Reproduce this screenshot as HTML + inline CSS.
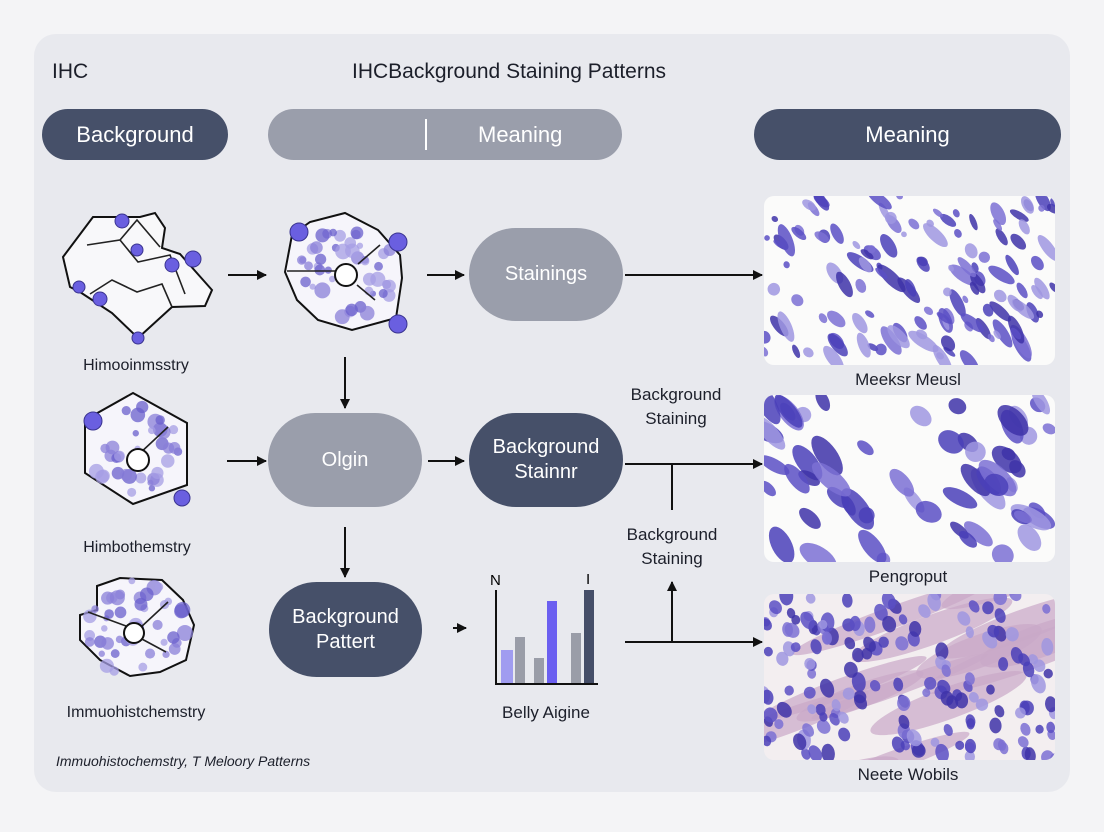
<!DOCTYPE html>
<html><head><meta charset="utf-8"><style>
body{margin:0;width:1104px;height:832px;background:#f4f4f6;font-family:"Liberation Sans",sans-serif;position:relative;overflow:hidden}
.panel{position:absolute;left:34px;top:34px;width:1036px;height:758px;background:#e8e9ee;border-radius:22px}
.t{position:absolute;color:#1c1f2a;white-space:nowrap}
.pill{position:absolute;border-radius:50px;color:#fff;display:flex;align-items:center;justify-content:center;text-align:center;font-size:20px;line-height:25px}
.d{background:#465069}.g{background:#9a9eab}
.lbl{position:absolute;font-size:16px;color:#1c1f2a;transform:translateX(-50%);white-space:nowrap}
</style></head><body>
<div class="panel"></div>
<div class="t" style="left:52px;top:60px;font-size:21px">IHC</div>
<div class="t" style="left:352px;top:60px;font-size:21px">IHCBackground Staining Patterns</div>
<div class="pill d" style="left:42px;top:109px;width:186px;height:51px;font-size:22px">Background</div>
<div class="pill g" style="left:268px;top:109px;width:354px;height:51px;font-size:22px"><span style="position:absolute;left:157px;top:10px;width:2px;height:31px;background:#fff"></span><span style="position:absolute;left:210px">Meaning</span></div>
<div class="pill d" style="left:754px;top:109px;width:307px;height:51px;font-size:22px">Meaning</div>
<div class="pill g" style="left:469px;top:228px;width:154px;height:93px">Stainings</div>
<div class="pill g" style="left:268px;top:413px;width:154px;height:94px">Olgin</div>
<div class="pill d" style="left:469px;top:413px;width:154px;height:94px">Background<br>Stainnr</div>
<div class="pill d" style="left:269px;top:582px;width:153px;height:95px">Background<br>Pattert</div>
<div class="lbl" style="left:136px;top:357px">Himooinmsstry</div>
<div class="lbl" style="left:137px;top:539px">Himbothemstry</div>
<div class="lbl" style="left:136px;top:704px">Immuohistchemstry</div>
<div class="lbl" style="left:908px;top:370px;font-size:17px">Meeksr Meusl</div>
<div class="lbl" style="left:908px;top:567px;font-size:17px">Pengroput</div>
<div class="lbl" style="left:908px;top:765px;font-size:17px">Neete Wobils</div>
<div class="lbl" style="left:676px;top:383px;font-size:17px;text-align:center;line-height:24px">Background<br>Staining</div>
<div class="lbl" style="left:672px;top:523px;font-size:17px;text-align:center;line-height:24px">Background<br>Staining</div>
<div class="lbl" style="left:546px;top:703px;font-size:17px">Belly Aigine</div>
<div class="t" style="left:56px;top:753px;font-size:14px;font-style:italic">Immuohistochemstry, T Meloory Patterns</div>
<svg width="1104" height="832" style="position:absolute;left:0;top:0">
<defs><marker id="a" markerWidth="10" markerHeight="10" refX="9" refY="5" orient="auto" markerUnits="userSpaceOnUse"><path d="M0,0L10,5L0,10z" fill="#111"/></marker>
<clipPath id="c1"><rect x="764" y="196" width="291" height="169" rx="10"/></clipPath>
<clipPath id="c2"><rect x="764" y="395" width="291" height="167" rx="10"/></clipPath>
<clipPath id="c3"><rect x="764" y="594" width="291" height="166" rx="10"/></clipPath>
</defs>
<g stroke="#111" stroke-width="2" fill="none" marker-end="url(#a)">
<line x1="228" y1="275" x2="266" y2="275"/><line x1="427" y1="275" x2="464" y2="275"/><line x1="625" y1="275" x2="762" y2="275"/>
<line x1="345" y1="357" x2="345" y2="408"/><line x1="227" y1="461" x2="266" y2="461"/><line x1="428" y1="461" x2="464" y2="461"/>
<line x1="625" y1="464" x2="762" y2="464"/><line x1="345" y1="527" x2="345" y2="577"/><line x1="453" y1="628" x2="466" y2="628"/>
<line x1="625" y1="642" x2="762" y2="642"/><line x1="672" y1="642" x2="672" y2="582"/>
</g>
<line x1="672" y1="464" x2="672" y2="510" stroke="#111" stroke-width="2"/>
<rect x="764" y="196" width="291" height="169" rx="10" fill="#fbfbfa"/>
<rect x="764" y="395" width="291" height="167" rx="10" fill="#fbfbfa"/>
<rect x="764" y="594" width="291" height="166" rx="10" fill="#f3eef0"/>
<g id="im1" clip-path="url(#c1)"></g><g id="im2" clip-path="url(#c2)"></g><g id="im3" clip-path="url(#c3)"></g>
<path d="M63,257L93,217L140,217L155,213L165,228L162,248L180,254L212,290L205,306L172,307L138,338L112,313L80,292L70,287Z" fill="#f8f8fa" stroke="#111" stroke-width="2"/>
<path d="M87,245L120,240L138,262L170,255L185,294M120,240L137,220L160,247M90,294L112,280L137,292L162,284L172,307" fill="none" stroke="#222" stroke-width="1.6"/>
<g fill="#6a5fe0" stroke="#3a3490" stroke-width="1"><circle cx="122" cy="221" r="7"/><circle cx="137" cy="250" r="6"/><circle cx="172" cy="265" r="7"/><circle cx="193" cy="259" r="8"/><circle cx="79" cy="287" r="6"/><circle cx="100" cy="299" r="7"/><circle cx="138" cy="338" r="6"/></g>
<path d="M292,235L310,222L345,213L378,230L400,255L402,278L396,318L352,330L318,320L297,300L285,272Z" fill="#f6f5fb" stroke="#111" stroke-width="2"/>
<g id="dots2"></g>
<path d="M287,271L335,271M358,264L380,245M357,285L375,300" stroke="#222" stroke-width="1.6"/>
<circle cx="346" cy="275" r="11" fill="#fff" stroke="#111" stroke-width="2"/>
<g fill="#6a5fe0" stroke="#3a3490"><circle cx="299" cy="232" r="9"/><circle cx="398" cy="242" r="9"/><circle cx="398" cy="324" r="9"/></g>
<path d="M133,393L187,423L187,485L133,504L85,473L85,420Z" fill="#f6f5fb" stroke="#111" stroke-width="2"/>
<g id="dots3"></g>
<line x1="138" y1="455" x2="168" y2="427" stroke="#222" stroke-width="1.6"/>
<circle cx="138" cy="460" r="11" fill="#fff" stroke="#111" stroke-width="2"/>
<g fill="#6a5fe0" stroke="#3a3490"><circle cx="93" cy="421" r="9"/><circle cx="182" cy="498" r="8"/></g>
<path d="M97,586L120,578L162,580L183,600L194,625L186,660L160,672L130,676L100,660L80,640L80,615L97,610Z" fill="#f6f5fb" stroke="#111" stroke-width="2"/>
<g id="dots4"></g>
<path d="M88,612L126,626M140,628L168,602M140,638L166,652" stroke="#222" stroke-width="1.6"/>
<circle cx="134" cy="633" r="10" fill="#fff" stroke="#111" stroke-width="2"/>
<path d="M496,590L496,684L598,684" fill="none" stroke="#111" stroke-width="2"/>
<rect x="501" y="650" width="12" height="33" fill="#a09cf0"/><rect x="515" y="637" width="10" height="46" fill="#9a9da8"/>
<rect x="534" y="658" width="10" height="25" fill="#9a9da8"/><rect x="547" y="601" width="10" height="82" fill="#6b5ff0"/>
<rect x="571" y="633" width="10" height="50" fill="#9a9da8"/><rect x="584" y="590" width="10" height="93" fill="#454e68"/>
<text x="490" y="585" font-size="15" font-family="Liberation Sans">N</text><text x="586" y="584" font-size="15" font-family="Liberation Sans">I</text>
</svg>
<script>
var s=7;function r(){s=(s*16807)%2147483647;return s/2147483647;}
var NS="http://www.w3.org/2000/svg";
function el(g,t,a){var e=document.createElementNS(NS,t);for(var k in a)e.setAttribute(k,a[k]);g.appendChild(e);}
function fill(id,x,y,w,h,n,rmin,rmax,elong,ang,bg){var g=document.getElementById(id);
if(bg){for(var i=0;i<14;i++){var yy=y+r()*h;el(g,"ellipse",{cx:x+r()*w,cy:yy,rx:60+r()*60,ry:8+r()*10,fill:"#c9a8c8",opacity:.7,transform:"rotate(-20 "+(x+w/2)+" "+yy+")"});}}
for(var i=0;i<n;i++){var cx=x+r()*w,cy=y+r()*h,rr=rmin+r()*(rmax-rmin),e=1+r()*elong,a=ang+(r()-.5)*40;
var c=["#3e32a8","#5a4fc4","#7b70d4","#9f97e0","#4a3fb8"][Math.floor(r()*5)];
el(g,"ellipse",{cx:cx,cy:cy,rx:rr,ry:rr*e,fill:c,opacity:.85,transform:"rotate("+a+" "+cx+" "+cy+")"});}}
fill("im1",764,196,291,169,130,2.5,6.5,2,-40,false);
fill("im2",764,395,291,167,60,5,11,1.8,-45,false);
fill("im3",764,594,291,166,160,4,7,0.5,-20,true);
function dots(id,cx,cy,R,n){var g=document.getElementById(id);for(var i=0;i<n;i++){var a=r()*6.283,d=Math.sqrt(r())*R;el(g,"circle",{cx:cx+Math.cos(a)*d,cy:cy+Math.sin(a)*d,r:3+r()*5,fill:["#8a7fd8","#a59ee4","#6a5fcc"][Math.floor(r()*3)],opacity:.75});}}
dots("dots2",345,272,50,45);dots("dots3",135,450,45,35);dots("dots4",137,628,50,45);
</script>
</body></html>
